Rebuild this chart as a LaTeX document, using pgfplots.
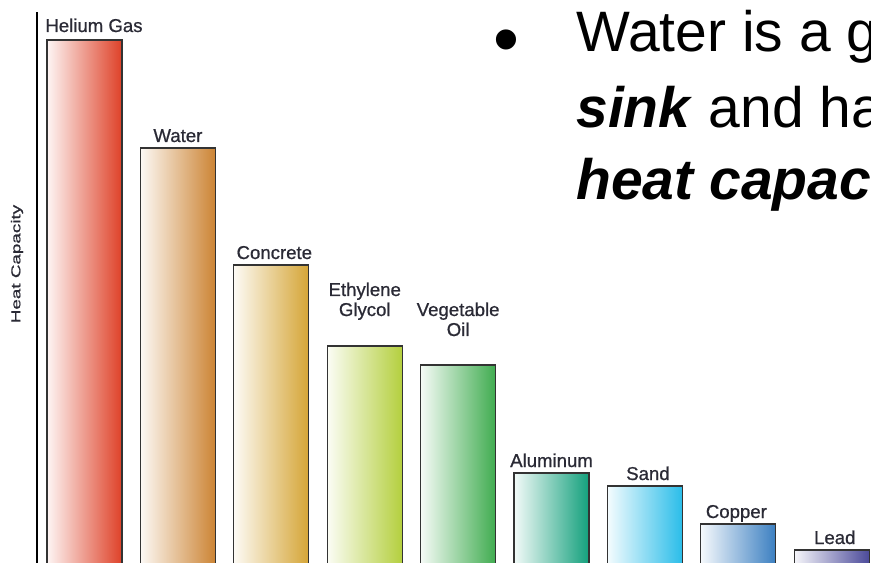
\documentclass[border=0pt]{standalone}
\usepackage{pgfplots}
\pgfplotsset{compat=1.18}
\usepackage{fontspec}
\setmainfont{Liberation Sans}
\newfontfamily\lblfont{Liberation Sans}[FakeBold=0.8]
\usepackage{graphicx}
\definecolor{cHe}{HTML}{DE4128}
\definecolor{cWa}{HTML}{CC8434}
\definecolor{cCo}{HTML}{D5A536}
\definecolor{cEt}{HTML}{B4CF3E}
\definecolor{cVe}{HTML}{40AC50}
\definecolor{cAl}{HTML}{13A07C}
\definecolor{cSa}{HTML}{2ABDE9}
\definecolor{cCu}{HTML}{3B7FC1}
\definecolor{cPb}{HTML}{4B4A9A}
\definecolor{lbl}{HTML}{2A2A35}
\pgfplotsset{mybar/.style={ybar, bar width=37.5pt, bar shift=0pt, draw=black!80, line width=0.6pt, left color=#1!5, right color=#1}}
\begin{document}
\begin{tikzpicture}
\begin{axis}[
  at={(18.5pt,-5pt)}, anchor=south west,
  scale only axis, width=417pt, height=280pt,
  xmin=-0.5086, xmax=8.42, ymin=0, ymax=560,
  axis x line=none, axis y line=left,
  y axis line style={-, line width=1pt, black},
  ytick=\empty, xtick=\empty,
  clip=true,
]
\addplot[mybar=cHe] coordinates {(0,532)};
\addplot[mybar=cWa] coordinates {(1,424)};
\addplot[mybar=cCo] coordinates {(2,307)};
\addplot[mybar=cEt] coordinates {(3,226)};
\addplot[mybar=cVe] coordinates {(4,207)};
\addplot[mybar=cAl] coordinates {(5,99)};
\addplot[mybar=cSa] coordinates {(6,86)};
\addplot[mybar=cCu] coordinates {(7,48)};
\addplot[mybar=cPb] coordinates {(8,22)};
\begin{scope}[every node/.style={inner sep=0pt, text=lbl, font=\lblfont\fontsize{9.3}{10}\selectfont, align=center}]
\node[anchor=base west] at ([xshift=-1pt,yshift=4pt]axis cs:-0.4015,532) {Helium Gas};
\node[anchor=base] at ([yshift=3pt]axis cs:1,424) {Water};
\node[anchor=base] at ([xshift=1.5pt,yshift=3pt]axis cs:2,307) {Concrete};
\node[anchor=base] at ([yshift=15pt]axis cs:3,226) {Ethylene\\Glycol};
\node[anchor=base] at ([yshift=14.5pt]axis cs:4,207) {Vegetable\\Oil};
\node[anchor=base] at ([yshift=3pt]axis cs:5,99) {Aluminum};
\node[anchor=base] at ([xshift=1.5pt,yshift=3pt]axis cs:6,86) {Sand};
\node[anchor=base] at ([xshift=-1pt,yshift=3pt]axis cs:7,48) {Copper};
\node[anchor=base] at ([xshift=1.5pt,yshift=3pt]axis cs:8,22) {Lead};
\end{scope}
\end{axis}
\node[rotate=90, inner sep=0pt, text=lbl, font=\lblfont\fontsize{6.5}{7}\selectfont] at (8.5pt,149pt) {\scalebox{1.45}[1]{Heat Capacity}};
\begin{scope}[every node/.style={inner sep=0pt, anchor=base west, font=\fontsize{28.5}{34}\selectfont}]
\node at (246.5pt,248.5pt) {\scalebox{1.3}{\textbullet}};
\node at (288pt,255pt) {Water is a good heat};
\node at (288pt,217pt) {\textbf{\textit{sink}} and has a high};
\node at (288pt,181pt) {\textbf{\textit{heat capacity}}};
\end{scope}
\pgfresetboundingbox
\useasboundingbox (0,0) rectangle (435.5pt,281pt);
\end{tikzpicture}
\end{document}
